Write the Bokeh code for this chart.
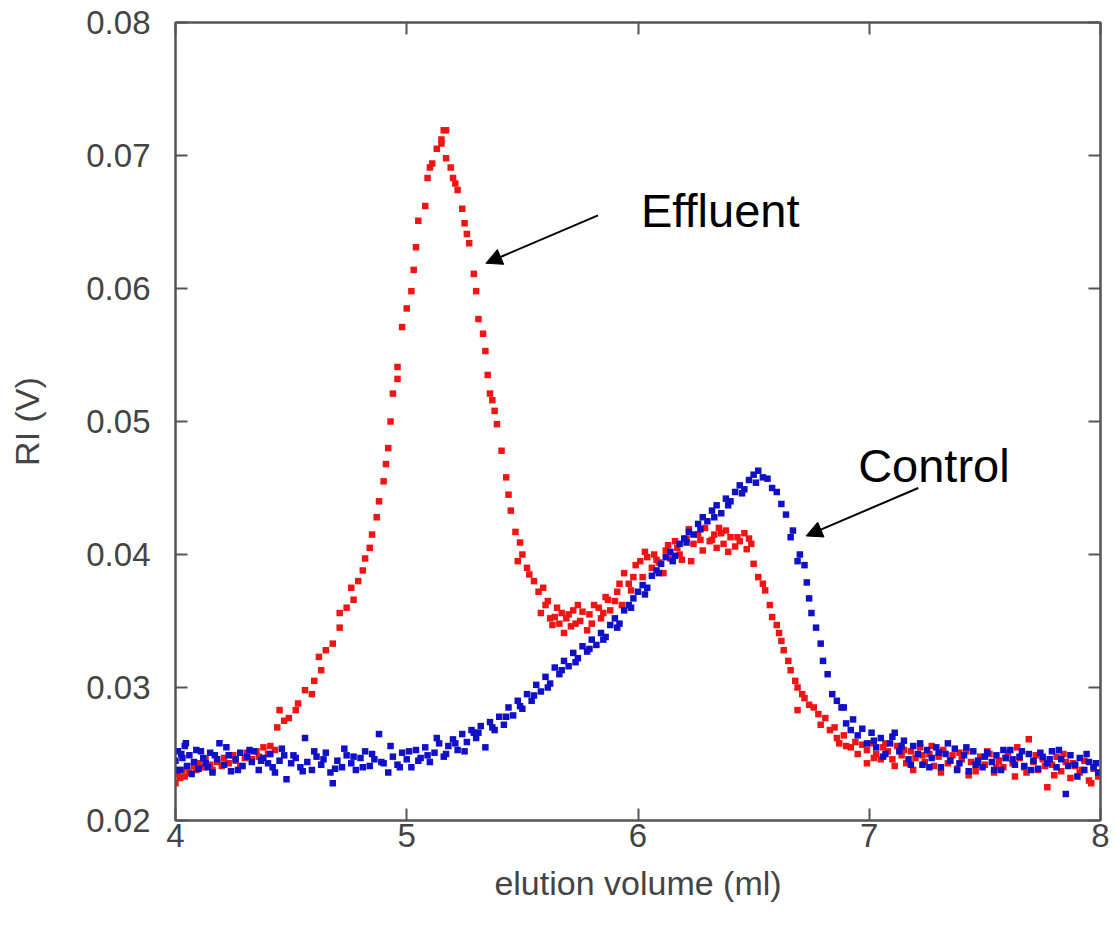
from bokeh.plotting import figure
from bokeh.models import ColumnDataSource, LinearAxis, Arrow, NormalHead, Label, Range1d, FixedTicker
from bokeh.embed import file_html
from bokeh.resources import INLINE

# ---------------- data ----------------
effluent_x = [
    4.00, 4.01, 4.02, 4.03, 4.04, 4.05, 4.06, 4.08, 4.09, 4.10, 4.12, 4.13, 4.15, 4.16, 4.18,
    4.20, 4.21, 4.23, 4.25, 4.26, 4.28, 4.30, 4.31, 4.33, 4.35, 4.36, 4.38, 4.40, 4.41, 4.43,
    4.44, 4.45, 4.47, 4.49, 4.52, 4.53, 4.56, 4.59, 4.60, 4.63, 4.62, 4.65, 4.68, 4.71, 4.71,
    4.74, 4.76, 4.77, 4.79, 4.81, 4.82, 4.84, 4.85, 4.87, 4.88, 4.90, 4.91, 4.92, 4.93, 4.94,
    4.96, 4.96, 4.98, 5.00, 5.02, 5.03, 5.04, 5.05, 5.08, 5.09, 5.10, 5.11, 5.13, 5.15, 5.16,
    5.17, 5.15, 5.17, 5.19, 5.20, 5.21, 5.22, 5.24, 5.25, 5.26, 5.27, 5.29, 5.30, 5.31, 5.33,
    5.34, 5.35, 5.36, 5.37, 5.38, 5.39, 5.41, 5.43, 5.44, 5.45, 5.47, 5.48, 5.49, 5.50, 5.52,
    5.53, 5.55, 5.57, 5.59, 5.60, 5.61, 5.62, 5.64, 5.65, 5.66, 5.68, 5.69, 5.70, 5.72, 5.73,
    5.75, 5.76, 5.78, 5.79, 5.81, 5.83, 5.84, 5.85, 5.87, 5.88, 5.90, 5.91, 5.93, 5.94, 5.96,
    5.97, 5.99, 6.01, 6.02, 6.04, 6.06, 6.07, 6.09, 6.11, 6.12, 6.14, 6.16, 6.17, 6.19, 6.21,
    6.23, 6.24, 6.26, 6.28, 6.29, 6.31, 6.32, 6.34, 6.35, 6.36, 6.37, 6.39, 6.40, 6.42, 6.44,
    6.46, 6.47, 6.49, 6.50, 6.52, 6.54, 6.55, 6.57, 6.58, 6.60, 6.61, 6.62, 6.63, 6.65, 6.66,
    6.68, 6.69, 6.69, 6.71, 6.72, 6.74, 6.76, 6.78, 6.79, 6.81, 6.83, 6.85, 6.86, 6.87, 6.89,
    6.90, 6.92, 6.94, 6.95, 6.97, 6.99, 6.99, 7.01, 7.03, 7.05, 7.06, 7.08, 7.10, 7.12, 7.14,
    7.16, 7.18, 7.20, 7.22, 7.24, 7.26, 7.28, 7.30, 7.32, 7.34, 7.36, 7.38, 7.40, 7.42, 7.44,
    7.46, 7.48, 7.50, 7.52, 7.54, 7.56, 7.58, 7.60, 7.62, 7.63, 7.65, 7.67, 7.69, 7.71, 7.73,
    7.75, 7.77, 7.79, 7.81, 7.83, 7.85, 7.87, 7.89, 7.91, 7.93, 7.95, 7.97, 7.99,
    # second layer of scattered readings
    5.58, 5.63, 5.67, 5.71, 5.74, 5.80, 5.86, 5.92, 5.98, 6.03, 6.08, 6.13, 6.18, 6.22, 6.27,
    6.33, 6.38, 6.43, 6.48,
    7.02, 7.07, 7.11, 7.15, 7.19, 7.23, 7.27, 7.31, 7.35, 7.39, 7.43, 7.47, 7.51, 7.55, 7.59,
    7.64, 7.68, 7.72, 7.76, 7.80, 7.84, 7.88, 7.92, 7.96,
]
effluent_y = [
    0.0228, 0.0235, 0.0232, 0.0238, 0.0233, 0.0240, 0.0236, 0.0241, 0.0238, 0.0243, 0.0240, 0.0246, 0.0242, 0.0238, 0.0244,
    0.0241, 0.0247, 0.0243, 0.0249, 0.0245, 0.0241, 0.0247, 0.0251, 0.0246, 0.0252, 0.0248, 0.0255, 0.0250, 0.0256, 0.0253,
    0.0270, 0.0283, 0.0275, 0.0277, 0.0283, 0.0288, 0.0298, 0.0295, 0.0305, 0.0313, 0.0323, 0.0328, 0.0333, 0.0345, 0.0356,
    0.0360, 0.0375, 0.0366, 0.0380, 0.0388, 0.0397, 0.0405, 0.0415, 0.0428, 0.0440, 0.0455, 0.0468, 0.0480, 0.0500, 0.0521,
    0.0541, 0.0532, 0.0571, 0.0585, 0.0598, 0.0614, 0.0631, 0.0651, 0.0662, 0.0683, 0.0691, 0.0694, 0.0705, 0.0712, 0.0719,
    0.0719, 0.0709, 0.0698, 0.0691, 0.0683, 0.0679, 0.0674, 0.0660, 0.0649, 0.0641, 0.0634, 0.0611, 0.0598, 0.0577, 0.0566,
    0.0553, 0.0535, 0.0521, 0.0516, 0.0508, 0.0498, 0.0478, 0.0458, 0.0445, 0.0433, 0.0417, 0.0395, 0.0409, 0.0400, 0.0390,
    0.0385, 0.0380, 0.0372, 0.0375, 0.0362, 0.0365, 0.0352, 0.0353, 0.0360, 0.0348, 0.0341, 0.0352, 0.0355, 0.0358, 0.0348,
    0.0350, 0.0357, 0.0343, 0.0355, 0.0362, 0.0360, 0.0352, 0.0356, 0.0366, 0.0358, 0.0365, 0.0372, 0.0362, 0.0386, 0.0378,
    0.0373, 0.0392, 0.0395, 0.0383, 0.0398, 0.0390, 0.0400, 0.0394, 0.0386, 0.0403, 0.0397, 0.0410, 0.0405, 0.0396, 0.0412,
    0.0395, 0.0408, 0.0415, 0.0403, 0.0420, 0.0410, 0.0411, 0.0405, 0.0420, 0.0416, 0.0408, 0.0402, 0.0413, 0.0406, 0.0410,
    0.0416, 0.0404, 0.0408, 0.0393, 0.0383, 0.0378, 0.0373, 0.0362, 0.0353, 0.0347, 0.0341, 0.0335, 0.0328, 0.0320, 0.0313,
    0.0305, 0.0300, 0.0283, 0.0295, 0.0292, 0.0287, 0.0285, 0.0280, 0.0272, 0.0277, 0.0268, 0.0270, 0.0262, 0.0258, 0.0264,
    0.0256, 0.0255, 0.0259, 0.0250, 0.0257, 0.0253, 0.0243, 0.0258, 0.0250, 0.0246, 0.0255, 0.0252, 0.0246, 0.0256, 0.0249,
    0.0243, 0.0252, 0.0247, 0.0255, 0.0244, 0.0250, 0.0241, 0.0248, 0.0253, 0.0243, 0.0249, 0.0239, 0.0246, 0.0252, 0.0244,
    0.0237, 0.0248, 0.0242, 0.0250, 0.0236, 0.0245, 0.0240, 0.0251, 0.0243, 0.0233, 0.0247, 0.0240, 0.0261, 0.0244, 0.0238,
    0.0246, 0.0225, 0.0242, 0.0248, 0.0237, 0.0244, 0.0232, 0.0241, 0.0236, 0.0245, 0.0230, 0.0239, 0.0233,
    0.0356, 0.0347, 0.0356, 0.0346, 0.0362, 0.0348, 0.0368, 0.0378, 0.0383, 0.0402, 0.0396, 0.0407, 0.0400, 0.0419, 0.0411,
    0.0415, 0.0418, 0.0413, 0.0412,
    0.0247, 0.0258, 0.0241, 0.0253, 0.0238, 0.0249, 0.0256, 0.0236, 0.0245, 0.0251, 0.0234, 0.0243, 0.0252, 0.0240, 0.0247,
    0.0255, 0.0236, 0.0249, 0.0241, 0.0234, 0.0250, 0.0243, 0.0238, 0.0228,
]

control_x = [
    4.00, 4.01, 4.02, 4.03, 4.04, 4.05, 4.06, 4.08, 4.09, 4.10, 4.12, 4.13, 4.15, 4.16, 4.18,
    4.19, 4.21, 4.23, 4.24, 4.26, 4.28, 4.29, 4.31, 4.33, 4.34, 4.36, 4.38, 4.40, 4.41, 4.43,
    4.45, 4.47, 4.48, 4.50, 4.52, 4.54, 4.56, 4.57, 4.59, 4.61, 4.63, 4.65, 4.67, 4.68, 4.70,
    4.72, 4.74, 4.76, 4.78, 4.80, 4.82, 4.84, 4.86, 4.88, 4.90, 4.92, 4.94, 4.96, 4.98, 5.00,
    5.02, 5.04, 5.06, 5.08, 5.10, 5.12, 5.14, 5.16, 5.18, 5.20, 5.22, 5.24, 5.26, 5.28, 5.30,
    5.32, 5.34, 5.36, 5.38, 5.40, 5.42, 5.44, 5.46, 5.48, 5.50, 5.52, 5.54, 5.56, 5.58, 5.60,
    5.62, 5.64, 5.66, 5.68, 5.70, 5.72, 5.74, 5.76, 5.78, 5.80, 5.82, 5.84, 5.86, 5.88, 5.90,
    5.92, 5.94, 5.96, 5.98, 6.00, 6.02, 6.04, 6.06, 6.08, 6.10, 6.12, 6.14, 6.16, 6.18, 6.20,
    6.22, 6.24, 6.26, 6.28, 6.30, 6.32, 6.34, 6.36, 6.38, 6.40, 6.42, 6.44, 6.46, 6.48, 6.50,
    6.52, 6.54, 6.56, 6.58, 6.60, 6.62, 6.64, 6.66, 6.67, 6.69, 6.70, 6.72, 6.73, 6.74, 6.75,
    6.77, 6.79, 6.80, 6.82, 6.84, 6.86, 6.88, 6.89, 6.90, 6.92, 6.93, 6.95, 6.97, 6.99, 7.01,
    7.03, 7.05, 7.07, 7.09, 7.11, 7.13, 7.15, 7.17, 7.19, 7.21, 7.23, 7.25, 7.27, 7.29, 7.31,
    7.33, 7.35, 7.37, 7.39, 7.41, 7.43, 7.45, 7.47, 7.49, 7.51, 7.53, 7.55, 7.57, 7.59, 7.61,
    7.63, 7.65, 7.67, 7.69, 7.71, 7.73, 7.75, 7.77, 7.79, 7.81, 7.83, 7.85, 7.87, 7.89, 7.91,
    7.93, 7.95, 7.97, 7.99,
    # second layer of scattered readings
    4.005, 4.025, 4.045, 4.07, 4.11, 4.14, 4.17, 4.22, 4.27, 4.32, 4.37, 4.42, 4.46, 4.51, 4.55,
    4.60, 4.64, 4.69, 4.73, 4.77, 4.81, 4.85, 4.89, 4.93, 4.97, 5.01, 5.05, 5.09, 5.13, 5.17,
    5.21, 5.25, 5.29,
    5.31, 5.37, 5.43, 5.49, 5.55, 5.61, 5.67, 5.73, 5.79, 5.85, 5.91, 5.97, 6.03, 6.09, 6.15,
    6.21, 6.27, 6.33, 6.39, 6.45, 6.51,
    7.02, 7.06, 7.10, 7.14, 7.18, 7.22, 7.26, 7.30, 7.34, 7.38, 7.42, 7.46, 7.50, 7.54, 7.58,
    7.62, 7.66, 7.70, 7.74, 7.78, 7.82, 7.86, 7.90, 7.94, 7.98,
]
control_y = [
    0.0245, 0.0252, 0.0238, 0.0247, 0.0256, 0.0241, 0.0249, 0.0244, 0.0253, 0.0239, 0.0247, 0.0243, 0.0251, 0.0236, 0.0246,
    0.0258, 0.0242, 0.0249, 0.0237, 0.0246, 0.0251, 0.0241, 0.0248, 0.0244, 0.0252, 0.0238, 0.0247, 0.0243, 0.0250, 0.0236,
    0.0245, 0.0249, 0.0231, 0.0243, 0.0247, 0.0240, 0.0262, 0.0244, 0.0238, 0.0248, 0.0242, 0.0251, 0.0236, 0.0228, 0.0245,
    0.0240, 0.0249, 0.0243, 0.0238, 0.0247, 0.0252, 0.0241, 0.0246, 0.0265, 0.0243, 0.0236, 0.0248, 0.0242, 0.0251, 0.0246,
    0.0240, 0.0253, 0.0247, 0.0255, 0.0244, 0.0251, 0.0258, 0.0248, 0.0256, 0.0261, 0.0253, 0.0265, 0.0259, 0.0268, 0.0262,
    0.0271, 0.0255, 0.0274, 0.0268, 0.0278, 0.0272, 0.0285, 0.0279, 0.0290, 0.0284, 0.0295, 0.0290, 0.0302, 0.0297, 0.0308,
    0.0303, 0.0315, 0.0310, 0.0320, 0.0316, 0.0326, 0.0322, 0.0331, 0.0327, 0.0336, 0.0332, 0.0341, 0.0338, 0.0347, 0.0352,
    0.0348, 0.0358, 0.0362, 0.0367, 0.0372, 0.0377, 0.0375, 0.0384, 0.0388, 0.0393, 0.0398, 0.0402, 0.0399, 0.0408, 0.0412,
    0.0417, 0.0415, 0.0423, 0.0428, 0.0425, 0.0433, 0.0437, 0.0431, 0.0442, 0.0440, 0.0447, 0.0452, 0.0449, 0.0456, 0.0460,
    0.0463, 0.0458, 0.0457, 0.0450, 0.0447, 0.0438, 0.0430, 0.0413, 0.0418, 0.0395, 0.0400, 0.0392, 0.0379, 0.0367, 0.0356,
    0.0345, 0.0333, 0.0320, 0.0310, 0.0295, 0.0290, 0.0285, 0.0285, 0.0273, 0.0268, 0.0276, 0.0264, 0.0269, 0.0258, 0.0266,
    0.0255, 0.0262, 0.0250, 0.0258, 0.0266, 0.0252, 0.0260, 0.0246, 0.0256, 0.0250, 0.0242, 0.0253, 0.0247, 0.0255, 0.0240,
    0.0250, 0.0245, 0.0254, 0.0243, 0.0249, 0.0237, 0.0252, 0.0245, 0.0240, 0.0251, 0.0244, 0.0249, 0.0238, 0.0247, 0.0253,
    0.0242, 0.0248, 0.0241, 0.0250, 0.0245, 0.0239, 0.0248, 0.0243, 0.0252, 0.0240, 0.0246, 0.0220, 0.0249, 0.0242, 0.0247,
    0.0238, 0.0244, 0.0240, 0.0236,
    0.0238, 0.0250, 0.0258, 0.0235, 0.0252, 0.0240, 0.0249, 0.0255, 0.0238, 0.0253, 0.0245, 0.0240, 0.0254, 0.0249, 0.0237,
    0.0252, 0.0246, 0.0239, 0.0254, 0.0248, 0.0240, 0.0250, 0.0244, 0.0256, 0.0240, 0.0252, 0.0245, 0.0249, 0.0262, 0.0250,
    0.0258, 0.0252, 0.0266,
    0.0266, 0.0270, 0.0278, 0.0286, 0.0294, 0.0300, 0.0313, 0.0319, 0.0329, 0.0336, 0.0345, 0.0360, 0.0370, 0.0386, 0.0395,
    0.0409, 0.0419, 0.0428, 0.0437, 0.0446, 0.0454,
    0.0260, 0.0248, 0.0263, 0.0256, 0.0242, 0.0258, 0.0240, 0.0251, 0.0258, 0.0238, 0.0255, 0.0242, 0.0248, 0.0238, 0.0253,
    0.0246, 0.0252, 0.0238, 0.0251, 0.0246, 0.0253, 0.0241, 0.0233, 0.0250, 0.0243,
]

x_ticks = [4, 5, 6, 7, 8]
y_ticks = [0.02, 0.03, 0.04, 0.05, 0.06, 0.07, 0.08]
x_label = "elution volume (ml)"
y_label = "RI (V)"

# ---------------- figure ----------------
FONT = "Liberation Sans"
AX = "#555555"
LAB = "#444444"

p = figure(width=1110, height=918, output_backend="svg", toolbar_location=None,
           x_range=Range1d(4, 8), y_range=Range1d(0.02, 0.08),
           frame_width=925, frame_height=798,
           min_border_left=175, min_border_top=22, min_border_right=10, min_border_bottom=98,
           x_axis_label=x_label, y_axis_label=y_label)
p.xgrid.visible = False
p.ygrid.visible = False
p.outline_line_color = AX
p.outline_line_width = 2
p.background_fill_color = "white"
p.border_fill_color = "white"

for ax in (p.xaxis[0], p.yaxis[0]):
    ax.axis_line_color = AX
    ax.axis_line_width = 2
    ax.major_tick_line_color = AX
    ax.major_tick_line_width = 2
    ax.major_tick_in = 12
    ax.major_tick_out = 0
    ax.minor_tick_line_color = None
    ax.major_label_text_font = FONT
    ax.major_label_text_font_size = "33px"
    ax.major_label_text_color = LAB
    ax.axis_label_text_font = FONT
    ax.axis_label_text_font_size = "34px"
    ax.axis_label_text_color = LAB
    ax.axis_label_text_font_style = "normal"

p.xaxis[0].ticker = FixedTicker(ticks=x_ticks)
p.yaxis[0].ticker = FixedTicker(ticks=y_ticks)
p.xaxis[0].major_label_standoff = 3
p.xaxis[0].axis_label_standoff = 14
p.yaxis[0].major_label_standoff = 25
p.yaxis[0].axis_label_standoff = 37

for loc, tk in (("right", y_ticks), ("above", x_ticks)):
    a = LinearAxis(ticker=FixedTicker(ticks=tk))
    a.axis_line_color = AX
    a.axis_line_width = 2
    a.major_tick_line_color = AX
    a.major_tick_line_width = 2
    a.major_tick_in = 12
    a.major_tick_out = 0
    a.minor_tick_line_color = None
    a.major_label_text_font_size = "0px"
    a.major_label_text_color = None
    a.major_label_standoff = 0
    p.add_layout(a, loc)

src_e = ColumnDataSource(dict(x=effluent_x, y=effluent_y))
src_c = ColumnDataSource(dict(x=control_x, y=control_y))
p.scatter("x", "y", source=src_e, marker="square", size=6.5, color="#f01414", line_width=0)
p.scatter("x", "y", source=src_c, marker="square", size=6.5, color="#1010c8", line_width=0)

# annotations
p.add_layout(Label(x=6.013, y=0.0659, text="Effluent", text_font=FONT, text_font_size="47px",
                   text_color="black", text_align="left", text_baseline="middle"))
p.add_layout(Label(x=6.952, y=0.0467, text="Control", text_font=FONT, text_font_size="47px",
                   text_color="black", text_align="left", text_baseline="middle"))
p.add_layout(Arrow(x_start=5.827, y_start=0.0655, x_end=5.342, y_end=0.0619,
                   line_color="black", line_width=2,
                   end=NormalHead(size=16, fill_color="black", line_color="black")))
p.add_layout(Arrow(x_start=7.212, y_start=0.0450, x_end=6.727, y_end=0.0414,
                   line_color="black", line_width=2,
                   end=NormalHead(size=16, fill_color="black", line_color="black")))

open("out.html", "w").write(file_html(p, INLINE))
